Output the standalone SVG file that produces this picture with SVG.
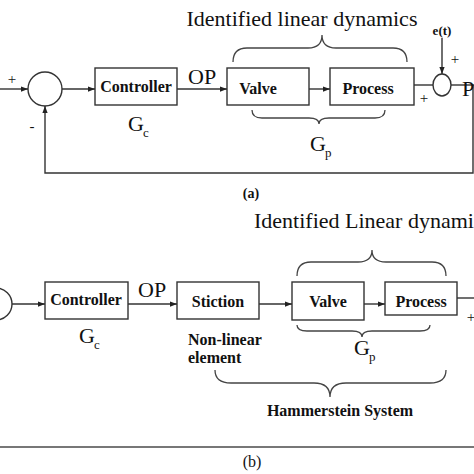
<svg xmlns="http://www.w3.org/2000/svg" width="474" height="474" viewBox="0 0 474 474">
<defs>
<marker id="ah" viewBox="0 0 8 8" refX="8" refY="4" markerWidth="7" markerHeight="7" markerUnits="userSpaceOnUse" orient="auto">
<path d="M0,1 L8,4 L0,7 Z" fill="#222"/>
</marker>
<style>
.box{fill:#fff;stroke:#333;stroke-width:1.4}
.ln{fill:none;stroke:#333;stroke-width:1.4}
.br{fill:none;stroke:#444;stroke-width:1.3}
.arr{fill:none;stroke:#333;stroke-width:1.4;marker-end:url(#ah)}
.bt{font-family:"Liberation Serif","Times New Roman",serif;font-weight:bold;font-size:16px;fill:#111}
.t{font-family:"Liberation Serif","Times New Roman",serif;font-size:22px;fill:#111}
.sub{font-family:"Liberation Serif","Times New Roman",serif;font-size:13px;fill:#111}
.sm{font-family:"Liberation Serif","Times New Roman",serif;font-size:15px;fill:#111}
</style>
</defs>
<rect width="474" height="474" fill="#fff"/>

<!-- (a) -->
<g id="a-sum"><circle cx="45" cy="89" r="17" class="ln"/></g>
<g id="a-controller"><rect x="95" y="68" width="82" height="37" class="box"/><text x="136" y="92" text-anchor="middle" class="bt">Controller</text></g>
<g id="a-valve"><rect x="227" y="68" width="82" height="37" class="box"/><text x="258" y="94" text-anchor="middle" class="bt">Valve</text></g>
<g id="a-process"><rect x="330" y="68" width="84" height="37" class="box"/><text x="368" y="94" text-anchor="middle" class="bt">Process</text></g>
<g id="a-sum2"><ellipse cx="442" cy="85" rx="9" ry="11" class="ln"/></g>

<g id="a-connectors">
<path d="M0,89 L28,89" class="arr"/>
<path d="M62,89 L95,89" class="arr"/>
<path d="M177,89 L227,89" class="arr"/>
<path d="M309,89 L330,89" class="arr"/>
<path d="M414,85 L433,85" class="ln"/>
<path d="M442,38 L442,74" class="arr"/>
<path d="M451,85 L474,85" class="ln"/>
<path d="M473,85 L473,173 L45,173 L45,106" class="arr"/>
</g>

<path d="M233,62 Q233,48 247,48 L308,48 Q322,48 322,35 Q322,48 336,48 L393,48 Q407,48 407,62" class="br"/>
<path d="M252,110 Q252,118 262,118 L309,118 Q319,118 319,124 Q319,118 329,118 L375,118 Q385,118 385,110" class="br"/>

<text x="302" y="26" text-anchor="middle" class="t">Identified linear dynamics</text>
<text x="188" y="84" class="t">OP</text>
<text x="128" y="131" class="t">G</text><text x="143" y="137" class="sub">c</text>
<text x="310" y="151" class="t">G</text><text x="325" y="157" class="sub">p</text>
<text x="442" y="35" text-anchor="middle" class="bt" style="font-size:13px">e(t)</text>
<text x="12" y="84" text-anchor="middle" class="sm" fill="#111">+</text>
<text x="32" y="131" text-anchor="middle" class="sm">-</text>
<text x="455" y="64" text-anchor="middle" class="sm" fill="#111">+</text>
<text x="424" y="103" text-anchor="middle" class="sm" fill="#111">+</text>
<text x="462" y="96" class="t">P</text>
<text x="251" y="198" text-anchor="middle" class="bt" style="font-size:14px">(a)</text>

<!-- (b) -->
<g id="b-sum"><circle cx="-4" cy="304" r="16" class="ln"/></g>
<g id="b-controller"><rect x="45" y="282" width="83" height="37" class="box"/><text x="86" y="305" text-anchor="middle" class="bt">Controller</text></g>
<g id="b-stiction"><rect x="177" y="282" width="82" height="37" class="box"/><text x="218" y="307" text-anchor="middle" class="bt">Stiction</text></g>
<g id="b-valve"><rect x="292" y="282" width="72" height="38" class="box"/><text x="328" y="307" text-anchor="middle" class="bt">Valve</text></g>
<g id="b-process"><rect x="385" y="282" width="72" height="33" class="box"/><text x="421" y="307" text-anchor="middle" class="bt">Process</text></g>

<g id="b-connectors">
<path d="M12,304 L45,304" class="arr"/>
<path d="M128,304 L177,304" class="arr"/>
<path d="M259,304 L292,304" class="arr"/>
<path d="M364,304 L385,304" class="arr"/>
<path d="M457,298 L474,298" class="ln"/>
</g>

<path d="M297,276 Q297,262 311,262 L358,262 Q372,262 372,250 Q372,262 386,262 L432,262 Q446,262 446,276" class="br"/>
<path d="M297,325 Q297,331 307,331 L352,331 Q362,331 362,337 Q362,331 372,331 L420,331 Q430,331 430,325" class="br"/>
<path d="M215,370 Q215,383 231,383 L314,383 Q330,383 330,397 Q330,383 346,383 L430,383 Q446,383 446,370" class="br"/>

<text x="254" y="228" class="t">Identified Linear dynamics</text>
<text x="138" y="297" class="t">OP</text>
<text x="79" y="343" class="t">G</text><text x="94" y="349" class="sub">c</text>
<text x="354" y="355" class="t">G</text><text x="369" y="361" class="sub">p</text>
<text x="188" y="345" class="bt">Non-linear</text>
<text x="188" y="363" class="bt">element</text>
<text x="340" y="416" text-anchor="middle" class="bt">Hammerstein System</text>
<text x="471" y="322" text-anchor="middle" class="sm" fill="#111">+</text>

<line x1="0" y1="447" x2="474" y2="447" stroke="#777" stroke-width="2"/>
<text x="252" y="467" text-anchor="middle" class="sm" style="font-size:16px">(b)</text>
</svg>
